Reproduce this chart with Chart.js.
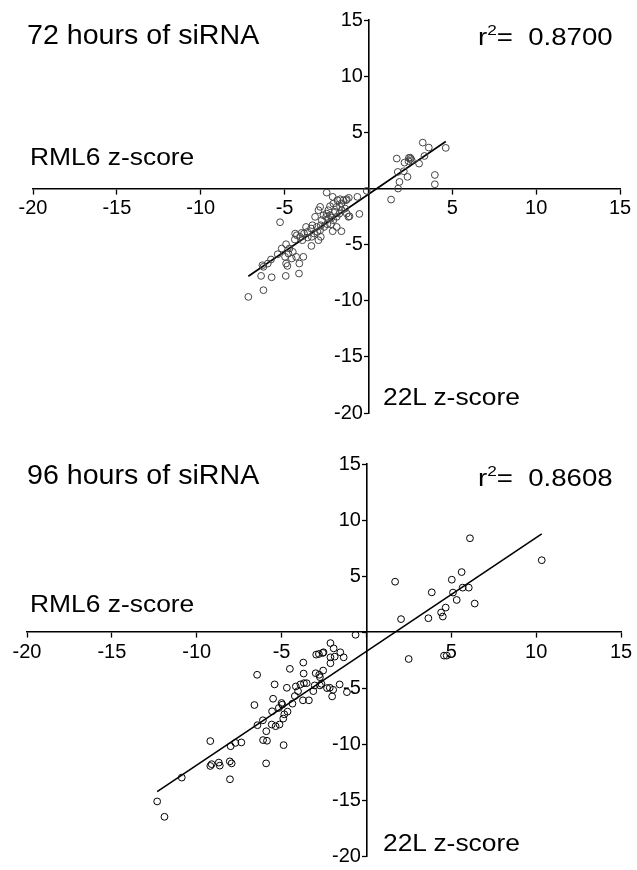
<!DOCTYPE html>
<html>
<head>
<meta charset="utf-8">
<script src="https://cdn.jsdelivr.net/npm/chart.js@4.4.1/dist/chart.umd.min.js"></script>
<style>
body{margin:0;background:#fff;width:637px;height:870px;position:relative;overflow:hidden;font-family:"Liberation Sans",Arial,sans-serif;}
.panel{position:absolute;left:0;width:637px;height:435px;}
.txt{position:absolute;white-space:nowrap;color:#000;line-height:1;transform-origin:0 50%;}
.title{font-size:27px;transform:scaleX(1.06);}
.lab{font-size:24px;transform:scaleX(1.1);}
.r2{font-size:24px;transform:scaleX(1.15);}
.r2 sup{font-size:15px;vertical-align:top;position:relative;top:-3px;}
</style>
</head>
<body>
<div class="panel" style="top:0"><canvas id="c72" width="637" height="435"></canvas></div>
<div class="panel" style="top:435px"><canvas id="c96" width="637" height="435"></canvas></div>

<div class="txt title" style="left:27px;top:22px">72 hours of siRNA</div>
<div class="txt r2" style="left:478px;top:25px">r<sup>2</sup>= &nbsp;0.8700</div>
<div class="txt lab" style="left:30px;top:145px">RML6 z-score</div>
<div class="txt lab" style="left:383px;top:385px">22L z-score</div>

<div class="txt title" style="left:27px;top:462px">96 hours of siRNA</div>
<div class="txt r2" style="left:478px;top:466px">r<sup>2</sup>= &nbsp;0.8608</div>
<div class="txt lab" style="left:30px;top:592px">RML6 z-score</div>
<div class="txt lab" style="left:383px;top:831px">22L z-score</div>

<script>
/* 72 h: 22L z-score (x) vs RML6 z-score (y) */
const x72 = [3.24,3.60,4.61,3.34,3.02,2.49,2.41,2.52,2.58,2.39,2.15,1.69,2.11,1.75,2.33,1.85,1.77,3.96,3.96,1.35,
  -0.10,-0.54,-0.66,-1.17,-1.19,-1.13,
  -2.49,-2.13,-1.85,-1.69,-1.61,-1.49,-1.33,-1.29,-1.89,-2.09,-2.29,-2.39,-2.49,-2.52,-2.29,-2.19,-2.09,-1.89,-1.73,-1.59,-1.39,-1.29,-1.69,-1.99,
  -2.39,-2.88,-2.98,-2.68,-2.78,-3.18,-2.84,-3.08,-3.34,-3.42,-3.72,-3.64,-3.84,-4.08,-4.27,-4.37,-3.98,-3.38,-3.62,-3.24,
  -3.04,-2.88,-2.84,-3.40,-2.98,-3.94,-4.39,-4.71,-5.17,-4.91,-4.77,-4.51,-4.57,-4.31,-3.88,-4.12,-4.97,-5.41,-4.91,-4.83,
  -5.27,-5.81,-6.00,-6.32,-6.26,-6.40,-5.77,-4.93,-4.14,-6.26,-7.16,-1.61,-2.13,-2.45,-2.64,-2.23,-1.89];
const y72 = [4.08,3.64,3.61,2.89,2.21,2.74,2.72,2.63,2.51,2.42,2.30,2.66,1.53,1.47,1.03,0.58,-0.01,1.20,0.37,-0.99,
  -0.22,-2.27,-0.75,-0.84,-2.53,-2.48,
  -0.37,-0.75,-1.05,-0.96,-1.35,-1.05,-1.05,-0.96,-1.64,-1.35,-1.58,-1.94,-2.24,-2.53,-2.39,-2.59,-2.83,-2.53,-2.24,-1.94,-1.79,-2.24,-1.64,-2.09,
  -2.68,-1.64,-1.94,-2.39,-2.83,-2.53,-3.28,-3.43,-3.28,-3.57,-3.43,-3.87,-4.02,-4.31,-4.17,-4.02,-3.96,-4.31,-4.37,-4.02,
  -3.87,-3.72,-4.31,-5.12,-4.61,-4.61,-4.55,-5.35,-5.35,-4.97,-5.80,-5.65,-6.24,-6.09,-6.09,-6.69,-6.09,-5.86,-6.69,-6.90,
  -3.01,-6.33,-6.69,-6.84,-6.98,-7.79,-7.91,-7.79,-7.58,-9.06,-9.66,-3.81,-3.81,-3.19,-3.43,-3.19,-3.43];

/* 96 h */
const x96 = [-12.33,-11.90,-10.88,-9.20,-9.20,-9.12,-8.70,-8.64,-8.05,-7.94,-8.04,-8.00,-7.72,-7.37,-6.60,-6.44,-6.42,-6.10,-6.09,-5.86,
  -5.91,-5.90,-5.58,-5.50,-5.41,-5.56,-5.35,-5.12,-5.16,-5.00,-4.96,-4.90,-4.84,-4.65,-4.88,-4.69,-4.51,-4.36,-4.22,-4.16,
  -4.03,-3.89,-3.74,-3.70,-3.72,-3.68,-3.52,-3.39,-3.13,-3.05,-2.99,-2.96,-2.80,-2.78,-2.74,-2.74,-2.65,-2.57,-2.53,-2.55,
  -2.32,-2.12,-2.12,-2.12,-2.02,-1.96,-1.93,-1.87,-1.54,-1.58,-1.34,-1.15,-0.64,-2.16,
  6.10,10.33,1.69,5.61,5.03,3.85,5.10,5.67,6.03,5.32,6.38,4.67,4.40,4.50,3.65,2.04,4.57,4.73,2.49];
const y96 = [-15.13,-16.50,-13.00,-9.74,-11.96,-11.80,-11.66,-11.93,-11.55,-11.73,-13.15,-10.20,-9.90,-9.86,-6.52,-3.82,-8.32,-7.88,-9.65,-9.71,
  -11.73,-8.86,-8.26,-5.96,-4.68,-7.08,-8.41,-8.26,-6.78,-6.34,-6.49,-7.73,-7.35,-7.11,-10.10,-4.98,-3.29,-6.40,-5.72,-4.86,
  -5.28,-4.68,-6.10,-3.71,-2.73,-4.57,-4.57,-6.10,-5.28,-4.77,-3.68,-2.02,-1.96,-3.82,-4.03,-4.77,-4.63,-1.87,-1.81,-3.44,
  -5.01,-0.99,-2.26,-2.79,-5.75,-5.16,-1.46,-2.20,-1.81,-4.68,-2.26,-5.37,-0.25,-4.98,
  8.37,6.41,4.49,5.35,4.67,3.54,3.52,3.96,3.96,2.86,2.54,2.18,1.74,1.38,1.23,1.15,-2.11,-2.11,-2.41];

/* linear fits */
const fit72 = {slope: 1.02, intercept: -0.52};
const fit96 = {slope: 1.015, intercept: -1.73};

const axisMin = -20, axisMax = 15, axisStep = 5;

function points(xs, ys){
    return xs.map((x,i)=>({x:x, y:ys[i]}));
}

function fitLine(xs, fit){
    const lo = Math.min(...xs), hi = Math.max(...xs);
    return [{x:lo, y:fit.slope*lo+fit.intercept},{x:hi, y:fit.slope*hi+fit.intercept}];
}

// axes cross at the origin; y labels get a trailing space so they sit clear of the tick marks
function axis(crossAt, tickLen, pad, isY){
    return {
        type:"linear",
        min:axisMin, max:axisMax,
        position:crossAt,
        ticks:{
            stepSize:axisStep,
            color:"#000",
            padding:pad,
            font:{family:"'Liberation Sans', Arial, sans-serif", size:20},
            callback:v=>v===0?"":(isY?v+" ":v)
        },
        grid:{drawOnChartArea:false, drawTicks:true, tickLength:tickLen, color:"#000", tickWidth:1.3},
        border:{color:"#000", width:1.6}
    };
}

function makeChart(id, xs, ys, fit, ptColor, pad){
    new Chart(document.getElementById(id),{
        type:"scatter",
        data:{
            datasets:[{
                data:points(xs,ys),
                pointStyle:"circle",
                pointRadius:3.4,
                pointBorderWidth:1,
                pointBorderColor:ptColor,
                pointBackgroundColor:"rgba(255,255,255,0)"
            },{
                type:"line",
                data:fitLine(xs,fit),
                borderColor:"#000",
                borderWidth:1.6,
                pointRadius:0,
                fill:false
            }]
        },
        options:{
            responsive:false,
            animation:false,
            events:[],
            layout:{padding:pad},
            plugins:{legend:{display:false}, tooltip:{enabled:false}},
            scales:{
                x:axis({y:0},5,3,false),
                y:axis({x:0},4,2,true)
            }
        }
    });
}

makeChart("c72", x72, y72, fit72, "#444", {left:33, right:17, top:20, bottom:22});
makeChart("c96", x96, y96, fit96, "#000", {left:27, right:16, top:29, bottom:12});
</script>
</body>
</html>
